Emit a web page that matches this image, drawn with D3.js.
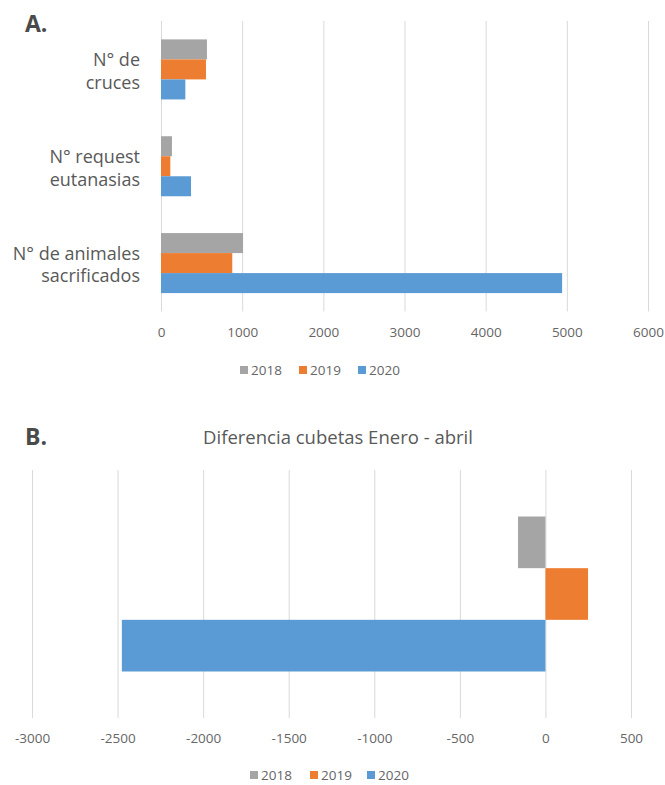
<!DOCTYPE html>
<html><head><meta charset="utf-8">
<script src="https://cdn.jsdelivr.net/npm/d3@7"></script>
<style>
html,body{margin:0;padding:0;background:#fff;}
text{font-family:"Open Sans",sans-serif;fill:#595959;}
</style></head>
<body>
<svg id="c" width="665" height="785"></svg>
<script>
const series = ["2018","2019","2020"];
const colors = ["#A5A5A5","#ED7D31","#5B9BD5"];
const catsA = [["N° de","cruces"],["N° request","eutanasias"],["N° de animales","sacrificados"]];
const valsA2018 = [566, 135, 1010];
const valsA2019 = [554, 115, 878];
const valsA2020 = [300, 370, 4942];
const ticksA = [0,1000,2000,3000,4000,5000,6000];
const titleB = "Diferencia cubetas Enero - abril";
const catsB = ["Diferencia"];
const valsB2018 = [-160];
const valsB2019 = [249];
const valsB2020 = [-2475];
const ticksB = [-3000,-2500,-2000,-1500,-1000,-500,0,500];

const svg = d3.select("#c");
const fmt = d => String(d); // plain hyphen minus, as in the reference

// ---------- Chart A ----------
const xA = d3.scaleLinear().domain([0,6000]).range([161,648]);
const yA = d3.scaleBand().domain(d3.range(catsA.length)).range([21,311.5]).paddingInner(0.38).paddingOuter(0.19);
const sA = d3.scaleBand().domain(series).range([0,yA.bandwidth()]);
const dataA = [valsA2018, valsA2019, valsA2020];

svg.append("text").attr("x",25).attr("y",32).attr("font-size",23).attr("font-weight","bold")
  .style("fill","#4a4a4a").text("A.");

const gA = svg.append("g");
gA.append("g").attr("transform","translate(0,311.5)")
  .call(d3.axisBottom(xA).tickValues(ticksA).tickSize(-290.5).tickFormat(fmt))
  .call(g=>g.select(".domain").remove())
  .call(g=>g.selectAll(".tick line").attr("stroke","#d9d9d9"))
  .call(g=>g.selectAll(".tick text").attr("font-size",13.5).attr("dy","1.7em").style("fill","#666666"));

series.forEach((s,si)=>{
  gA.append("g").selectAll("rect").data(dataA[si]).join("rect")
    .attr("x",xA(0)).attr("y",(d,i)=>yA(i)+sA(s))
    .attr("width",d=>xA(d)-xA(0)).attr("height",sA.bandwidth())
    .attr("fill",colors[si]);
});

catsA.forEach((lines,i)=>{
  const cy = yA(i)+yA.bandwidth()/2;
  const t = svg.append("text").attr("text-anchor","end").attr("font-size",18);
  lines.forEach((ln,li)=>{
    t.append("tspan").attr("x",140).attr("y",cy-3+li*22.3).text(ln);
  });
});

function legend(cy, starts){
  const g = svg.append("g");
  series.forEach((s,si)=>{
    g.append("rect").attr("x",starts[si]).attr("y",cy-4).attr("width",8).attr("height",8).attr("fill",colors[si]);
    g.append("text").attr("x",starts[si]+11).attr("y",cy).attr("dy","0.35em").attr("font-size",13.5)
      .style("fill","#666666").text(s);
  });
}
legend(370, [240,299,358]);

// ---------- Chart B ----------
svg.append("text").attr("x",25).attr("y",445).attr("font-size",23).attr("font-weight","bold")
  .style("fill","#4a4a4a").text("B.");
svg.append("text").attr("x",338).attr("y",444).attr("text-anchor","middle").attr("font-size",18.5).text(titleB);

const xB = d3.scaleLinear().domain([-3000,500]).range([32,631]);
const yB = d3.scaleBand().domain(catsB).range([470,718]).paddingInner(0.375).paddingOuter(0.1875);
const sB = d3.scaleBand().domain(series).range([0,yB.bandwidth()]);
const dataB = [valsB2018, valsB2019, valsB2020];

const gB = svg.append("g");
gB.append("g").attr("transform","translate(0,718)")
  .call(d3.axisBottom(xB).tickValues(ticksB).tickSize(-248).tickFormat(fmt))
  .call(g=>g.select(".domain").remove())
  .call(g=>g.selectAll(".tick line").attr("stroke","#d9d9d9"))
  .call(g=>g.selectAll(".tick text").attr("font-size",13.5).attr("dy","1.65em").style("fill","#666666"));

series.forEach((s,si)=>{
  gB.append("g").selectAll("rect").data(dataB[si]).join("rect")
    .attr("x",d=>xB(Math.min(0,d))).attr("y",(d,i)=>yB(catsB[i])+sB(s))
    .attr("width",d=>Math.abs(xB(d)-xB(0))).attr("height",sB.bandwidth())
    .attr("fill",colors[si]);
});

legend(775, [250,310,367]);
</script>
</body></html>
